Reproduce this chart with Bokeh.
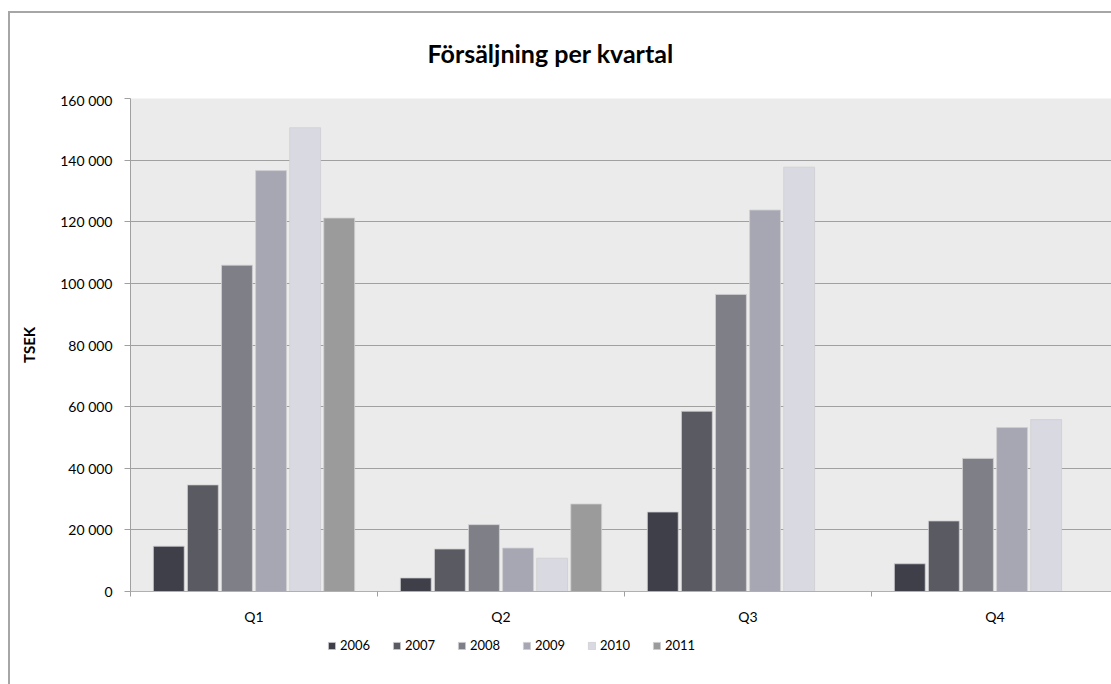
import math
from bokeh.plotting import figure
from bokeh.layouts import column
from bokeh.models import (Range1d, FixedTicker, Legend, LegendItem,
                          ColumnDataSource, Title)
from bokeh.transform import dodge
from bokeh.embed import file_html
from bokeh.resources import INLINE

# ---------------- data ----------------
quarters = ["Q1", "Q2", "Q3", "Q4"]
years = ["2006", "2007", "2008", "2009", "2010", "2011"]
s2006 = [14700, 4400, 25800, 9000]
s2007 = [34600, 13800, 58500, 22900]
s2008 = [105900, 21700, 96400, 43200]
s2009 = [136600, 14100, 123800, 53200]
s2010 = [150500, 10800, 137700, 55800]
s2011 = [121200, 28400, None, None]
y_ticks = [0, 20000, 40000, 60000, 80000, 100000, 120000, 140000, 160000]

series = [s2006, s2007, s2008, s2009, s2010, s2011]
colors = ["#3f3f4a", "#5a5a63", "#7f7f87", "#a7a7b3", "#d9d9e2", "#9b9b9b"]

FONT = "Lato"
EDGE = "#cfcfd2"

xc = [i + 0.5 for i in range(len(quarters))]
data = {"x": xc}
for yr, vals in zip(years, series):
    data[yr] = [float("nan") if v is None else v for v in vals]
src = ColumnDataSource(data)

frame_w = 981
cat_px = 247
xr = Range1d(0, frame_w / cat_px)

# ---------------- title strip ----------------
p0 = figure(width=1101, height=78, x_range=xr, y_range=Range1d(0, 1),
            output_backend="svg", toolbar_location=None,
            x_axis_type=None, y_axis_type=None,
            min_border=0, outline_line_color=None,
            background_fill_color="white", border_fill_color="white")
p0.xgrid.visible = False
p0.ygrid.visible = False
p0.title = Title(text="Försäljning per kvartal", align="left", offset=297,
                 text_font=FONT, text_font_size="25px", text_font_style="bold",
                 text_color="#000000", vertical_align="bottom", standoff=44)

# ---------------- main chart ----------------
p = figure(frame_width=frame_w, frame_height=493,
           x_range=xr, y_range=Range1d(0, 160000),
           output_backend="svg", toolbar_location=None,
           min_border_left=120, min_border_right=0,
           min_border_top=7, min_border_bottom=40,
           background_fill_color="#ebebeb", border_fill_color="white",
           outline_line_color=None)
p.title.visible = False

n = len(years)
step = 0.138
renderers = []
for j, (yr, col) in enumerate(zip(years, colors)):
    r = p.vbar(x=dodge("x", (j - (n - 1) / 2) * step, range=xr),
               top=yr, width=0.125, source=src,
               fill_color=col, line_color=EDGE, line_width=0.8)
    renderers.append(r)

# y axis
p.yaxis.ticker = FixedTicker(ticks=y_ticks)
p.yaxis.major_label_overrides = {t: f"{t:,}".replace(",", " ") for t in y_ticks}
p.yaxis.axis_label = "TSEK"
p.yaxis.axis_label_text_font = FONT
p.yaxis.axis_label_text_font_size = "15px"
p.yaxis.axis_label_text_font_style = "bold"
p.yaxis.axis_label_text_color = "#000000"
p.yaxis.axis_label_standoff = 19
p.yaxis.major_label_text_font = FONT
p.yaxis.major_label_text_font_size = "14px"
p.yaxis.major_label_text_color = "#000000"
p.yaxis.major_tick_in = 0
p.yaxis.major_tick_out = 6
p.yaxis.minor_tick_line_color = None
p.yaxis.major_label_standoff = 12
p.yaxis.axis_line_color = "#a0a0a0"
p.yaxis.major_tick_line_color = "#a0a0a0"

# x axis
p.xaxis.ticker = FixedTicker(ticks=xc, minor_ticks=list(range(len(quarters) + 1)))
p.xaxis.major_label_overrides = {x: q for x, q in zip(xc, quarters)}
p.xaxis.major_tick_in = 0
p.xaxis.major_tick_out = 0
p.xaxis.major_tick_line_color = None
p.xaxis.minor_tick_in = 0
p.xaxis.minor_tick_out = 5
p.xaxis.minor_tick_line_color = "#a0a0a0"
p.xaxis.axis_line_color = "#b0b0b0"
p.xaxis.major_label_text_font = FONT
p.xaxis.major_label_text_font_size = "14px"
p.xaxis.major_label_text_color = "#000000"
p.xaxis.major_label_standoff = 11

# grid
p.xgrid.visible = False
p.ygrid.ticker = FixedTicker(ticks=y_ticks)
p.ygrid.grid_line_color = "#a0a0a0"
p.ygrid.grid_line_width = 1

# ---------------- legend strip below the chart ----------------
# the same bars, as hidden renderers; only their legend entries are shown
p2 = figure(width=1101, height=53, x_range=xr, y_range=Range1d(-2, -1),
            output_backend="svg", toolbar_location=None,
            x_axis_type=None, y_axis_type=None,
            min_border=0, outline_line_color=None,
            background_fill_color="white", border_fill_color="white")
p2.xgrid.visible = False
p2.ygrid.visible = False
items = []
for j, (yr, col) in enumerate(zip(years, colors)):
    r2 = p2.vbar(x=dodge("x", (j - (n - 1) / 2) * step, range=xr),
                 top=yr, width=0.125, source=src,
                 fill_color=col, line_color=EDGE, line_width=0.8)
    r2.visible = False
    items.append(LegendItem(label=yr, renderers=[r2]))

legend = Legend(items=items, orientation="horizontal", location=(197, 31),
                glyph_width=9, glyph_height=9, label_standoff=4,
                label_width=44, label_height=14, spacing=8,
                label_text_font=FONT, label_text_font_size="13px",
                label_text_color="#000000",
                padding=0, margin=0, border_line_color=None,
                background_fill_alpha=0, inactive_fill_alpha=0)
p2.add_layout(legend, "center")

layout = column(p0, p, p2, spacing=0,
                styles={"margin-top": "11px", "margin-left": "8px",
                        "border-top": "2px solid #a6a6a6",
                        "border-left": "2px solid #a6a6a6"})

open("out.html", "w").write(file_html(layout, INLINE))
